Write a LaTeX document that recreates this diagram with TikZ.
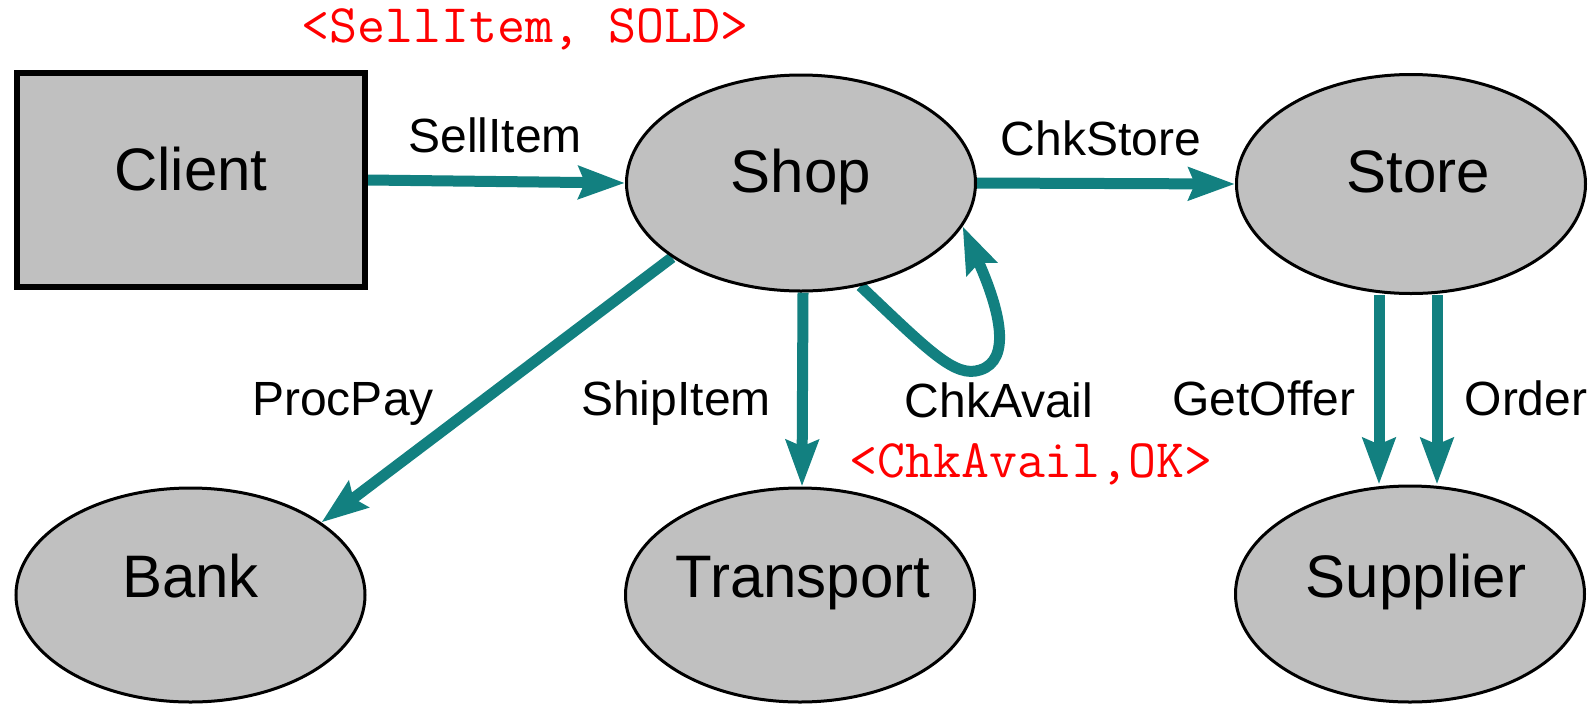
\documentclass[tikz,border=0pt]{standalone}
\usepackage{fontspec}
\setmainfont{Liberation Sans}
\usetikzlibrary{arrows.meta,shapes.geometric,backgrounds}
\definecolor{flowteal}{RGB}{18,128,128}
\definecolor{entgrey}{RGB}{192,192,192}
% zero-width box: the label never widens its shape
\newcommand\ztext[1]{\makebox[0pt]{#1}}
\begin{document}
\begin{tikzpicture}[x=1pt,y=-1pt,
  ent/.style={ellipse, draw=black, line width=3pt, fill=entgrey, inner sep=0pt,
    minimum width=349pt, minimum height=216pt,
    font=\fontsize{60}{60}\selectfont, text depth=0pt},
  actor/.style={rectangle, draw=black, line width=6pt, fill=entgrey, inner sep=0pt,
    minimum width=348pt, minimum height=214pt,
    font=\fontsize{60}{60}\selectfont, text depth=0pt},
  flow/.style={draw=flowteal, line width=11pt,
    -{Stealth[length=46pt,width=32pt,inset=6pt]}},
  lbl/.style={font=\fontsize{48}{48}\selectfont, anchor=base, inner sep=0pt},
  note/.style={font=\ttfamily\fontsize{54.3}{55}\selectfont, text=red,
    anchor=base, inner sep=0pt}]

\useasboundingbox (0,0) rectangle (1596,705);

% participants
\node[actor, text height=20pt] (client) at (191,180) {\ztext{Client}};
\node[ent, text height=18pt] (shop) at (801,183) {\ztext{Shop}};
\node[ent, text height=16pt, minimum height=219pt] (store) at (1411,184) {\ztext{\hspace{14pt}Store}};
\node[ent, text height=4pt, minimum height=214pt] (bank) at (190.5,595) {\ztext{Bank}};
\node[ent, text height=4pt, minimum height=214pt] (transport) at (800,595) {\ztext{\hspace{6pt}Transport}};
\node[ent, text height=6pt, minimum height=216pt] (supplier) at (1410,594) {\ztext{\hspace{12pt}Supplier}};

% message flows
\begin{scope}[on background layer]
\draw[flow] (client.east) -- (shop.west);
\draw[flow] (shop.east) -- (store.west);
\draw[flow] (shop.210) -- (bank.29);
\draw[flow] ([xshift=2pt]shop.south) -- ([xshift=2pt]transport.north);
\draw[flow] (shop.-60) .. controls (930,352) and (955,378) .. (980,370)
  .. controls (1012,360) and (1000,310) .. (shop.-15);
\draw[flow] ([xshift=-32pt]store.south) -- ([xshift=-31pt]supplier.north);
\draw[flow] ([xshift=26pt]store.south) -- ([xshift=27pt]supplier.north);
\end{scope}

% operation names
\node[lbl] (lsell) at (495,152) {SellItem};
\node[lbl] (lstore) at (1101,155) {ChkStore};
\node[lbl] (lpay) at (343,415) {ProcPay};
\node[lbl] (lship) at (676,415) {ShipItem};
\node[lbl] (lavail) at (999,417) {ChkAvail};
\node[lbl] (loffer) at (1264,415) {GetOffer};
\node[lbl] (lorder) at (1526,415) {Order};

% annotated results
\node[note] (nsold) at (525,42) {<SellItem, SOLD>};
\node[note] (nok) at (1031,477) {<ChkAvail,OK>};
\end{tikzpicture}
\end{document}
